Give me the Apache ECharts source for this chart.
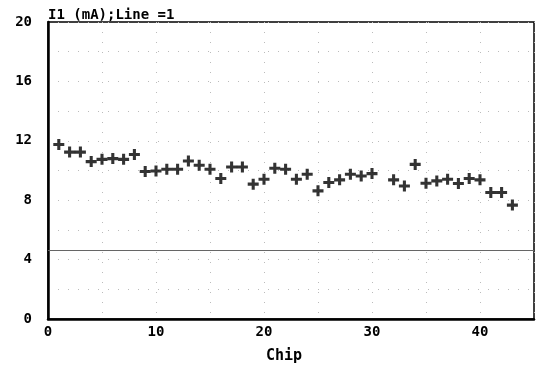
<!DOCTYPE html>
<html>
<head>
<meta charset="utf-8">
<script src="https://cdn.jsdelivr.net/npm/echarts@6/dist/echarts.min.js"></script>
<style>html,body{margin:0;padding:0;background:#fff}#c{width:537px;height:369px}</style>
</head>
<body>
<div id="c"></div>
<script>
const chips = [1,2,3,4,5,6,7,8,9,10,11,12,13,14,15,16,17,18,19,20,21,22,23,24,25,26,27,28,29,30,32,33,34,35,36,37,38,39,40,41,42,43];
const currentMA = [11.75,11.24,11.24,10.6,10.75,10.8,10.75,11.08,9.93,9.97,10.08,10.08,10.64,10.35,10.08,9.46,10.23,10.23,9.08,9.41,10.15,10.08,9.41,9.75,8.63,9.19,9.37,9.75,9.63,9.79,9.37,8.96,10.41,9.14,9.30,9.41,9.12,9.46,9.37,8.52,8.52,7.67];
const limitLine = 4.6;
const xTicks = [0,10,20,30,40];
const yTicks = [0,4,8,12,16,20];
const titleText = 'I1 (mA);Line =1';
const xName = 'Chip';

const font = 'DejaVu Sans Mono';
const chart = echarts.init(document.getElementById('c'), null, {renderer:'canvas'});
const gridLine = {show:true, lineStyle:{color:'#bbb', width:1, type:[1,9]}};
chart.setOption({
  animation:false,
  backgroundColor:'#fff',
  title:{text:titleText, left:43, top:3, textStyle:{fontFamily:font, fontSize:14, fontWeight:'bold', color:'#000'}},
  grid:{left:48, right:3, top:22, bottom:49, show:true, borderColor:'#000', borderWidth:1.5, backgroundColor:'transparent'},
  xAxis:{type:'value', min:0, max:45, interval:10,
    name:xName, nameLocation:'middle', nameGap:30,
    nameTextStyle:{fontFamily:font, fontSize:15, fontWeight:'bold', color:'#000', padding:[0,14,0,0]},
    axisLine:{show:true, lineStyle:{color:'#000', width:2.5}},
    axisTick:{show:false},
    axisLabel:{fontFamily:font, fontSize:14, fontWeight:'bold', color:'#000', margin:6,
      formatter:v => xTicks.includes(v) ? String(v) : ''},
    splitLine:gridLine,
    minorTick:{show:false, splitNumber:2},
    minorSplitLine:gridLine
  },
  yAxis:{type:'value', min:0, max:20, interval:4,
    axisLine:{show:true, lineStyle:{color:'#000', width:2.5}},
    axisTick:{show:false},
    axisLabel:{fontFamily:font, fontSize:14, fontWeight:'bold', color:'#000', margin:16,
      formatter:v => yTicks.includes(v) ? String(v) : ''},
    splitLine:gridLine,
    minorTick:{show:false, splitNumber:2},
    minorSplitLine:gridLine
  },
  series:[{
    type:'scatter',
    data:chips.map((c,i)=>[c,currentMA[i]]),
    symbol:'path://M0,3.6H10V6.4H0Z M3.6,0H6.4V10H3.6Z',
    symbolSize:11,
    itemStyle:{color:'#000'},
    markLine:{silent:true, symbol:['none','none'], label:{show:false},
      lineStyle:{color:'#666', width:1, type:'solid'},
      data:[{yAxis:limitLine}]}
  }]
});
</script>
</body>
</html>
